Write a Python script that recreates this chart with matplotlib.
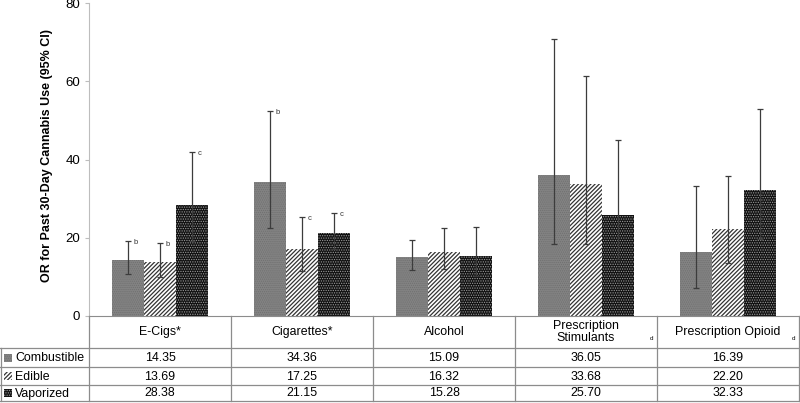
import numpy as np
import matplotlib.pyplot as plt
from matplotlib.patches import Rectangle

plt.rcParams['font.family'] = ['Liberation Sans', 'DejaVu Sans']

categories = ['E-Cigs*', 'Cigarettes*', 'Alcohol', 'Prescription\nStimulants', 'Prescription Opioid']
cat_marks = ['', '', '', 'd', 'd']
series = ['Combustible', 'Edible', 'Vaporized']

combustible = [14.35, 34.36, 15.09, 36.05, 16.39]
edible = [13.69, 17.25, 16.32, 33.68, 22.20]
vaporized = [28.38, 21.15, 15.28, 25.70, 32.33]

comb_lo = [10.7, 22.6, 11.8, 18.3, 7.1]
comb_hi = [19.2, 52.3, 19.4, 70.7, 33.2]
edib_lo = [9.9, 11.6, 11.9, 18.3, 13.6]
edib_hi = [18.7, 25.4, 22.4, 61.4, 35.8]
vapo_lo = [19.2, 17.0, 10.2, 14.6, 19.8]
vapo_hi = [41.9, 26.3, 22.8, 45.1, 52.8]

comb_sig = ['b', 'b', '', '', '']
edib_sig = ['b', 'c', '', '', '']
vapo_sig = ['c', 'c', '', '', '']

styles = [
    dict(facecolor='#838383', edgecolor='#707070', hatch='........'),
    dict(facecolor='white', edgecolor='#333333', hatch='////////'),
    dict(facecolor='#111111', edgecolor='#9a9a9a', hatch='.......'),
]
hatch_lw = [0.6, 0.9, 0.6]

W, H = 800, 403
L, R, T, B = 89, 799, 3, 316
fig = plt.figure(figsize=(W / 100, H / 100), dpi=100)
ax = fig.add_axes([L / W, 1 - B / H, (R - L) / W, (B - T) / H])

x = np.arange(len(categories))
bw = 0.224
vals = [combustible, edible, vaporized]
los = [comb_lo, edib_lo, vapo_lo]
his = [comb_hi, edib_hi, vapo_hi]
sigs = [comb_sig, edib_sig, vapo_sig]
for k in range(3):
    plt.rcParams['hatch.linewidth'] = hatch_lw[k]
    xs = x + (k - 1) * bw
    v = np.array(vals[k])
    ax.bar(xs, v, bw, linewidth=0, **styles[k])
    yerr = [v - np.array(los[k]), np.array(his[k]) - v]
    ax.errorbar(xs, v, yerr=yerr, fmt='none', ecolor='#3c3c3c', elinewidth=0.9,
                capsize=2.5, capthick=0.9)
    for i, s in enumerate(sigs[k]):
        if s:
            ax.annotate(s, (xs[i], his[k][i]), xytext=(4, -1), textcoords='offset points',
                        fontsize=5.5, va='center', ha='left', color='#333333')

ax.set_xlim(-0.5, len(categories) - 0.5)
ax.set_ylim(0, 80)
ax.set_yticks([0, 20, 40, 60, 80])
ax.set_xticks([])
ax.tick_params(axis='y', labelsize=9.5, length=3, color='#bdbdbd', pad=3.5)
for sp in ['top', 'right']:
    ax.spines[sp].set_visible(False)
ax.spines['left'].set_color('#bdbdbd')
ax.spines['bottom'].set_color('#8c8c8c')
ax.set_ylabel('OR for Past 30-Day Cannabis Use (95% CI)', fontsize=9, fontweight='bold')
ax.yaxis.set_label_coords(-36 / (R - L), (B - 155) / (B - T))

# table below the chart
tax = fig.add_axes([0, 0, 1, 1], zorder=5)
tax.set_xlim(0, W)
tax.set_ylim(H, 0)
tax.axis('off')
tax.patch.set_alpha(0)
lc = '#8c8c8c'
rows = [316, 348, 367, 385, 401]
cw = (R - L) / len(categories)
cols = [L + i * cw for i in range(len(categories) + 1)]
for yy in rows[1:]:
    tax.plot([0, R], [yy, yy], color=lc, lw=0.9)
for xx in cols:
    tax.plot([xx, xx], [rows[0], rows[-1]], color=lc, lw=0.9)
tax.plot([0.5, 0.5], [rows[1], rows[-1]], color=lc, lw=0.9)

for i, c in enumerate(categories):
    cx = (cols[i] + cols[i + 1]) / 2
    tax.text(cx, (rows[0] + rows[1]) / 2, c, ha='center', va='center', fontsize=8.9, linespacing=1.0)
    if cat_marks[i]:
        tax.text(cols[i + 1] - 6, rows[1] - 9, cat_marks[i], ha='center', va='center', fontsize=4.5)
    for k in range(3):
        tax.text(cx, (rows[k + 1] + rows[k + 2]) / 2 + 0.5, f'{vals[k][i]:.2f}',
                 ha='center', va='center', fontsize=8.9)

for k, name in enumerate(series):
    plt.rcParams['hatch.linewidth'] = hatch_lw[k]
    cy = (rows[k + 1] + rows[k + 2]) / 2
    tax.add_patch(Rectangle((4, cy - 4), 8, 8, linewidth=0, **styles[k]))
    tax.text(15, cy + 0.5, name, ha='left', va='center', fontsize=8.9)

fig.savefig('out.png', dpi=100)
